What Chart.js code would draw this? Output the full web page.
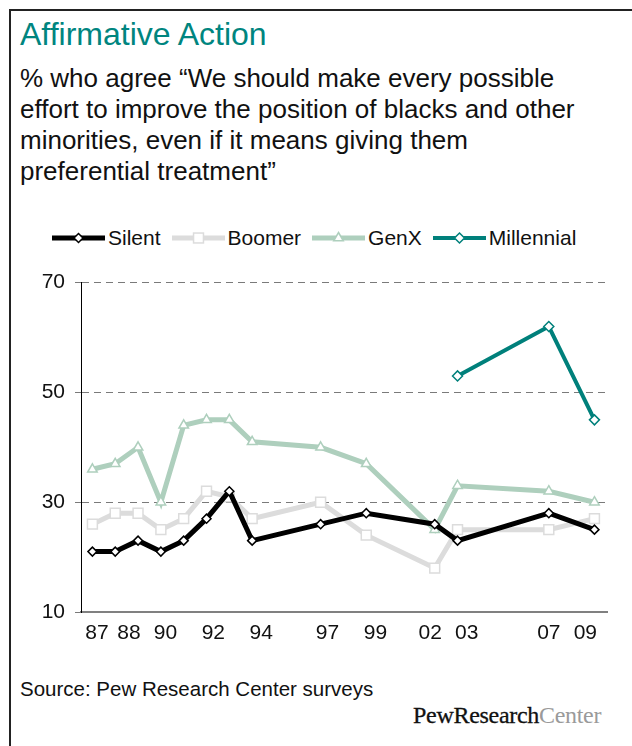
<!DOCTYPE html>
<html>
<head>
<meta charset="utf-8">
<script src="https://cdn.jsdelivr.net/npm/chart.js@4.4.1/dist/chart.umd.min.js"></script>
<style>
  html, body { margin: 0; padding: 0; background: #fff; }
  body { width: 632px; height: 746px; position: relative; overflow: hidden;
         font-family: "Liberation Sans", Arial, sans-serif; color: #111; }
  #frame { position: absolute; left: 9px; top: 9px; width: 640px; height: 760px;
           border-left: 2px solid #222; border-top: 2px solid #222; }
  #title { position: absolute; left: 20px; top: 16px; font-size: 32px; color: #00857f; }
  #sub { position: absolute; left: 20px; top: 63px; font-size: 26px; line-height: 31px; }
  #legend { position: absolute; left: 52px; top: 226px; height: 24px; display: flex;
            align-items: center; font-size: 21px; }
  .item { display: flex; align-items: center; margin-right: 11px; }
  .item svg { margin-right: 3px; }
  #wrap { position: absolute; left: 0; top: 260px; width: 632px; height: 400px; }
  #source { position: absolute; left: 20px; top: 677px; font-size: 20.5px; }
  #logo { position: absolute; left: 413px; top: 702px; font-family: "Liberation Serif", serif;
          font-size: 24px; letter-spacing: -0.3px; }
  #logo .p { color: #111; -webkit-text-stroke: 0.3px #111; }
  #logo .c { color: #9a9a9a; }
</style>
</head>
<body>
<div id="frame"></div>
<div id="title">Affirmative Action</div>
<div id="sub">% who agree “We should make every possible<br>effort to improve the position of blacks and other<br>minorities, even if it means giving them<br>preferential treatment”</div>
<div id="legend"></div>
<div id="wrap"><canvas id="chart"></canvas></div>
<div id="source">Source: Pew Research Center surveys</div>
<div id="logo"><span class="p">PewResearch</span><span class="c">Center</span></div>

<script>
// ----- data -----
const years = [1987, 1988, 1989, 1990, 1991, 1992, 1993, 1994, 1997, 1999, 2002, 2003, 2007, 2009];
const silent = [21, 21, 23, 21, 23, 27, 32, 23, 26, 28, 26, 23, 28, 25];
const boomer = [26, 28, 28, 25, 27, 32, 31, 27, 30, 24, 18, 25, 25, 27];
const genx = [36, 37, 40, 30, 44, 45, 45, 41, 40, 37, 25, 33, 32, 30];
const millennial = [null, null, null, null, null, null, null, null, null, null, null, 53, 62, 45];
// x labels, and where the original places each one along the year axis
const tickLabels = ["87", "88", "90", "92", "94", "97", "99", "02", "03", "07", "09"];
const tickAt = [1987.2, 1988.6, 1990.2, 1992.3, 1994.4, 1997.3, 1999.4, 2001.8, 2003.4, 2007.0, 2008.6];
const yTicks = [10, 30, 50, 70];

const TEAL = "#00807b";
const SAGE = "#aecfbd";
const GREY = "#dcdcdc";

const pts = (vals) => years.map((y, i) => ({ x: y, y: vals[i] }));

const series = [
  { label: "Silent", data: silent, color: "#000", width: 5, style: "rectRot", r: 4.5 },
  { label: "Boomer", data: boomer, color: GREY, width: 5, style: "rect", r: 7 },
  { label: "GenX", data: genx, color: SAGE, width: 5, style: "triangle", r: 5.5 },
  { label: "Millennial", data: millennial, color: TEAL, width: 4, style: "rectRot", r: 5 },
];

// ----- legend (html) -----
function markerSvg(s) {
  const cx = 26.5, cy = 7;
  let m = "";
  if (s.style === "rectRot") {
    const r = s.r;
    m = `<polygon points="${cx},${cy - r} ${cx + r},${cy} ${cx},${cy + r} ${cx - r},${cy}" fill="#fff" stroke="${s.color}" stroke-width="1.5"/>`;
  } else if (s.style === "rect") {
    const h = s.r * Math.SQRT1_2;
    m = `<rect x="${cx - h}" y="${cy - h}" width="${2 * h}" height="${2 * h}" fill="#fff" stroke="${s.color}" stroke-width="1.5"/>`;
  } else {
    const r = s.r;
    m = `<polygon points="${cx},${cy - r} ${cx + r * 0.87},${cy + r * 0.5} ${cx - r * 0.87},${cy + r * 0.5}" fill="#fff" stroke="${s.color}" stroke-width="1.5"/>`;
  }
  return `<svg width="53" height="14"><line x1="0" y1="${cy}" x2="53" y2="${cy}" stroke="${s.color}" stroke-width="${s.width}" stroke-linecap="round"/>${m}</svg>`;
}
document.getElementById("legend").innerHTML = series
  .map((s) => `<div class="item">${markerSvg(s)}<span>${s.label}</span></div>`)
  .join("");

// ----- chart -----
new Chart(document.getElementById("chart"), {
  type: "line",
  data: {
    datasets: series.map((s) => ({
      label: s.label,
      data: pts(s.data),
      borderColor: s.color,
      borderWidth: s.width,
      pointStyle: s.style,
      pointRadius: s.r,
      pointBackgroundColor: "#fff",
      pointBorderColor: s.color,
      pointBorderWidth: 1.5,
      tension: 0,
      spanGaps: false,
    })),
  },
  options: {
    animation: false,
    responsive: true,
    maintainAspectRatio: false,
    layout: { padding: { top: 22, right: 25, left: 0, bottom: 0 } },
    plugins: { legend: { display: false }, tooltip: { enabled: false } },
    scales: {
      x: {
        type: "linear",
        min: 1986.5,
        max: 2009.55,
        afterBuildTicks: (s) => { s.ticks = tickAt.map((v) => ({ value: v })); },
        afterFit: (s) => { s.height = 48; },
        ticks: {
          callback: (v, i) => tickLabels[i],
          autoSkip: false, maxRotation: 0, padding: 9,
          color: "#111", font: { family: "'Liberation Sans', Arial", size: 21 },
        },
        grid: { display: false, drawTicks: false },
        border: { color: "#808080", width: 2 },
      },
      y: {
        min: 10,
        max: 70,
        afterBuildTicks: (s) => { s.ticks = yTicks.map((v) => ({ value: v })); },
        afterFit: (s) => { s.width = 81; },
        ticks: {
          padding: 10, color: "#111",
          font: { family: "'Liberation Sans', Arial", size: 21 },
        },
        grid: {
          color: (c) => (c.tick && c.tick.value === 10 ? "rgba(0,0,0,0)" : "#7a7a7a"),
          lineWidth: 1, tickLength: 6, tickColor: "#7a7a7a",
        },
        border: { color: "#000", width: 1, dash: [7, 5] },
      },
    },
  },
});
</script>
</body>
</html>
